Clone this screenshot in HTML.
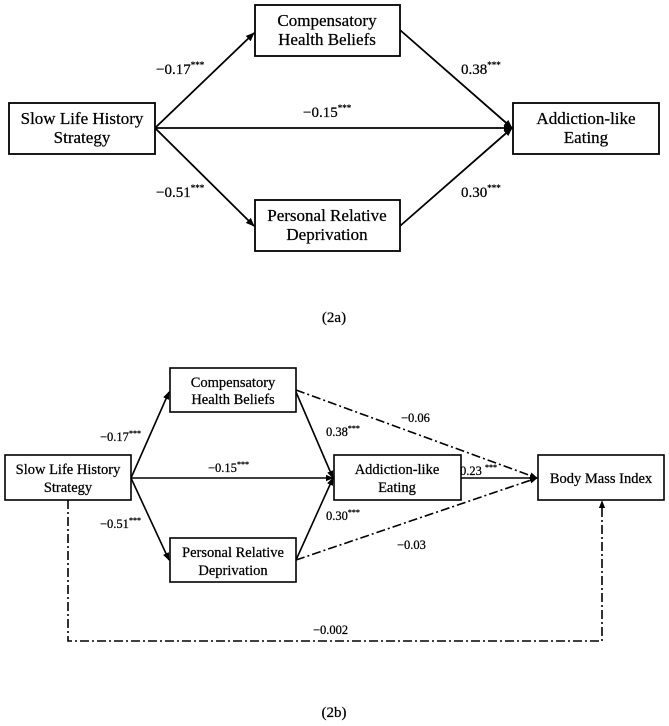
<!DOCTYPE html>
<html><head><meta charset="utf-8"><style>
html,body{margin:0;padding:0;background:#fff;}
svg{display:block;}
text{font-family:"Liberation Serif",serif;fill:#000;stroke:#000;stroke-width:0.25;}
</style></head><body>
<svg width="669" height="726" viewBox="0 0 669 726" xmlns="http://www.w3.org/2000/svg">
<defs>
<marker id="a" viewBox="0 0 10 10" refX="9" refY="5" markerWidth="5" markerHeight="5" orient="auto"><path d="M0,1 L10,5 L0,9 z" fill="#000"/></marker>
</defs>
<g stroke="#000" stroke-width="1.8" fill="none">
<rect x="9" y="103" width="146" height="51"/>
<rect x="255" y="5" width="145" height="51"/>
<rect x="255" y="200" width="145" height="51"/>
<rect x="513" y="103" width="146" height="51"/>
<line x1="155" y1="128" x2="254" y2="33" marker-end="url(#a)"/>
<line x1="155" y1="128" x2="254" y2="226" marker-end="url(#a)"/>
<line x1="155" y1="128" x2="512" y2="128" marker-end="url(#a)"/>
<line x1="400" y1="30" x2="512" y2="128" marker-end="url(#a)"/>
<line x1="400" y1="226" x2="512" y2="128" marker-end="url(#a)"/>
</g>
<g font-size="17" text-anchor="middle">
<text x="82" y="124">Slow Life History</text><text x="82" y="143">Strategy</text>
<text x="327" y="26">Compensatory</text><text x="327" y="45">Health Beliefs</text>
<text x="327" y="221">Personal Relative</text><text x="327" y="240">Deprivation</text>
<text x="586" y="124">Addiction-like</text><text x="586" y="143">Eating</text>
</g>
<g font-size="15">
<text x="156" y="74">−0.17<tspan font-size="9" dy="-6">***</tspan></text>
<text x="461" y="74">0.38<tspan font-size="9" dy="-6">***</tspan></text>
<text x="303" y="117">−0.15<tspan font-size="9" dy="-6">***</tspan></text>
<text x="156" y="197">−0.51<tspan font-size="9" dy="-6">***</tspan></text>
<text x="461" y="197">0.30<tspan font-size="9" dy="-6">***</tspan></text>
<text x="334" y="322" text-anchor="middle">(2a)</text>
</g>
<g stroke="#000" stroke-width="1.6" fill="none">
<rect x="5" y="455" width="126" height="45"/>
<rect x="170" y="368" width="126" height="44"/>
<rect x="170" y="538" width="126" height="44"/>
<rect x="334" y="455" width="127" height="45"/>
<rect x="538" y="455" width="126" height="45"/>
<line x1="131" y1="478" x2="169" y2="392" marker-end="url(#a)"/>
<line x1="131" y1="478" x2="169" y2="560" marker-end="url(#a)"/>
<line x1="131" y1="478" x2="333" y2="478" marker-end="url(#a)"/>
<line x1="296" y1="392" x2="333" y2="478" marker-end="url(#a)"/>
<line x1="296" y1="560" x2="333" y2="478" marker-end="url(#a)"/>
<line x1="461" y1="478" x2="537" y2="478" marker-end="url(#a)"/>
<g stroke-dasharray="9,3,2,3">
<line x1="296" y1="390" x2="537" y2="478" marker-end="url(#a)"/>
<line x1="296" y1="560" x2="537" y2="478" marker-end="url(#a)"/>
<polyline points="68,500 68,641 602,641 602,501" marker-end="url(#a)"/>
</g>
</g>
<g font-size="14.5" text-anchor="middle">
<text x="68" y="474">Slow Life History</text><text x="68" y="492">Strategy</text>
<text x="233" y="387">Compensatory</text><text x="233" y="404">Health Beliefs</text>
<text x="233" y="557">Personal Relative</text><text x="233" y="575">Deprivation</text>
<text x="397" y="474">Addiction-like</text><text x="397" y="492">Eating</text>
<text x="601" y="483">Body Mass Index</text>
</g>
<g font-size="12.5">
<text x="100" y="441">−0.17<tspan font-size="8" dy="-5">***</tspan></text>
<text x="326" y="436">0.38<tspan font-size="8" dy="-5">***</tspan></text>
<text x="208" y="472">−0.15<tspan font-size="8" dy="-5">***</tspan></text>
<text x="460" y="475">0.23 <tspan font-size="8" dy="-5">***</tspan></text>
<text x="100" y="528">−0.51<tspan font-size="8" dy="-5">***</tspan></text>
<text x="326" y="520">0.30<tspan font-size="8" dy="-5">***</tspan></text>
<text x="401" y="422">−0.06</text>
<text x="397" y="549">−0.03</text>
<text x="313" y="634">−0.002</text>
</g>
<text x="334" y="717" font-size="15" text-anchor="middle">(2b)</text>
</svg>
</body></html>
